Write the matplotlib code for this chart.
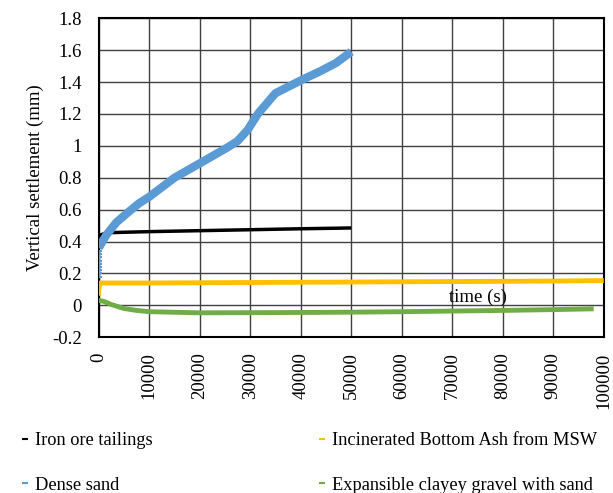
import matplotlib.pyplot as plt
from matplotlib.lines import Line2D

plt.rcParams['font.family'] = ['Liberation Serif', 'DejaVu Serif']
plt.rcParams['font.size'] = 13.5

# Settlement records: time (s) and vertical settlement (mm)
iron_t = [0, 0, 300, 1500, 5000, 10000, 20000, 30000, 40000, 50000]
iron_y = [0.38, 0.42, 0.44, 0.455, 0.458, 0.462, 0.468, 0.474, 0.48, 0.485]

sand_t = [0, 1500, 3500, 5700, 8000, 10000, 15000, 20000, 25500, 27500,
          29500, 31500, 35000, 40000, 44000, 47000, 50000]
sand_y = [0.36, 0.44, 0.52, 0.58, 0.64, 0.68, 0.80, 0.89, 0.99, 1.03,
          1.10, 1.20, 1.33, 1.41, 1.47, 1.52, 1.59]
sand_start_y = [0.18, 0.2, 0.22, 0.24, 0.26, 0.28, 0.30, 0.32, 0.34]

iba_t = [0, 0, 300, 10000, 30000, 50000, 70000, 90000, 100000]
iba_y = [0.06, 0.10, 0.14, 0.14, 0.143, 0.146, 0.149, 0.152, 0.155]

clay_t = [0, 1000, 2500, 5000, 7500, 10000, 20000, 30000, 40000, 50000,
          60000, 70000, 80000, 90000, 98000]
clay_y = [0.03, 0.025, 0.005, -0.02, -0.032, -0.04, -0.047, -0.046, -0.045, -0.043,
          -0.04, -0.036, -0.032, -0.027, -0.022]

labels = ['Iron ore tailings', 'Incinerated Bottom Ash from MSW',
          'Dense sand', 'Expansible clayey gravel with sand']
colors = {'iron': '#000000', 'iba': '#FFC000', 'sand': '#5B9BD5', 'clay': '#70AD47'}

fig = plt.figure(figsize=(6.13, 4.93), dpi=100)
ax = fig.add_axes([0.161, 0.316, 0.824, 0.647])

ax.plot(clay_t, clay_y, color=colors['clay'], lw=3.5, solid_capstyle='butt', zorder=3)
ax.plot(iba_t, iba_y, color=colors['iba'], lw=3.5, solid_capstyle='butt', zorder=3)
ax.plot(iron_t, iron_y, color=colors['iron'], lw=2.5, solid_capstyle='butt', zorder=4)
ax.plot([0] * len(sand_start_y), sand_start_y, color=colors['sand'], lw=1,
        marker='_', ms=5, mew=1.5, zorder=4)
ax.plot(sand_t, sand_y, color=colors['sand'], lw=6, solid_capstyle='butt', zorder=5)

ax.set_xlim(0, 100000)
ax.set_ylim(-0.2, 1.8)
ax.set_xticks(range(0, 100001, 10000))
ax.set_yticks([-0.2, 0, 0.2, 0.4, 0.6, 0.8, 1, 1.2, 1.4, 1.6, 1.8])
ax.set_yticklabels(['-0.2', '0', '0.2', '0.4', '0.6', '0.8', '1', '1.2', '1.4', '1.6', '1.8'])
ax.set_xticklabels([str(v) for v in range(0, 100001, 10000)], rotation=90, va='top')
ax.tick_params(axis='both', length=0)
ax.tick_params(axis='x', pad=11)
ax.tick_params(axis='y', pad=12)
ax.grid(True, color='#404040', lw=1)
ax.set_axisbelow(True)
for s in ax.spines.values():
    s.set_color('black')
    s.set_linewidth(1.5)

ax.set_ylabel('Vertical settlement (mm)', labelpad=6)
ax.text(75000, -0.005, 'time (s)', ha='center', va='bottom')

handles = [Line2D([], [], color=colors[k], ls='none', marker='_', ms=5, mew=1.5)
           for k in ['iron', 'sand', 'iba', 'clay']]
names = [labels[0], labels[2], labels[1], labels[3]]
fig.legend(handles, names, ncol=2, loc='center left', bbox_to_anchor=(0.022, 0.061),
           frameon=False, borderpad=0, handlelength=0.3, handletextpad=0.37,
           columnspacing=9.1, labelspacing=1.5, fontsize=13.2)

fig.savefig('out.png', dpi=100)
